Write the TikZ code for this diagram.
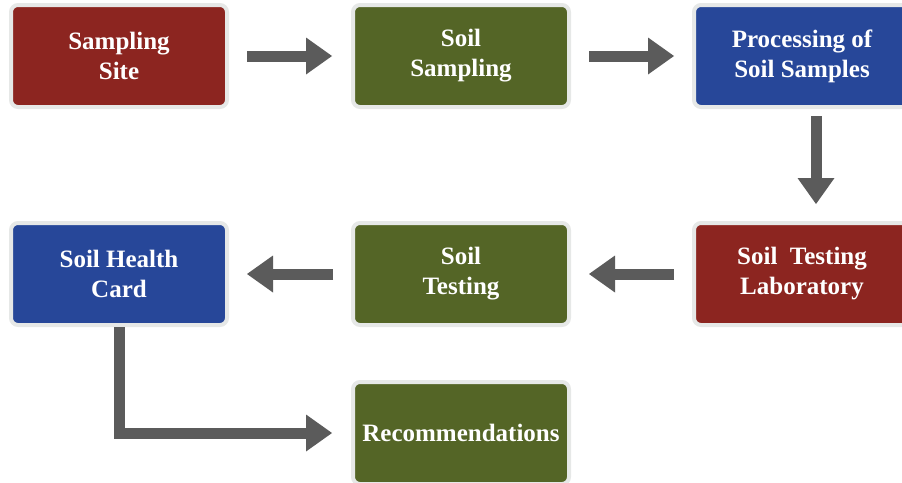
\documentclass[tikz,border=0pt]{standalone}
\usepackage{fontspec}
\setmainfont{Liberation Serif}
\usetikzlibrary{arrows.meta}
\definecolor{boxred}{HTML}{8C2520}
\definecolor{boxgreen}{HTML}{546526}
\definecolor{boxblue}{HTML}{274799}
\definecolor{boxrim}{HTML}{E6E8E7}
\definecolor{arrowgray}{HTML}{5B5B5B}
\tikzset{
  stepbox/.style={draw=boxrim, line width=4pt, rounded corners=7pt,
    minimum width=216pt, minimum height=102pt, text=white, align=center,
    font=\bfseries\fontsize{25}{30}\selectfont},
  flow/.style={draw=arrowgray, line width=11pt,
    -{Triangle[length=26pt,width=37pt,line width=0pt]}}
}
\begin{document}
\begin{tikzpicture}[x=1pt,y=-1pt]
\useasboundingbox (0,0) rectangle (902,482);
\clip (0,0) rectangle (902,482);
\node[stepbox, fill=boxred] (site) at (119,56) {Sampling\\Site};
\node[stepbox, fill=boxgreen] (samp) at (461,56) {Soil\\Sampling};
\node[stepbox, fill=boxblue] (proc) at (802,56) {Processing of\\Soil Samples};
\node[stepbox, fill=boxred] (lab) at (802,274) {Soil~ Testing\\Laboratory};
\node[stepbox, fill=boxgreen] (test) at (461,274) {Soil\\Testing};
\node[stepbox, fill=boxblue] (card) at (119,274) {Soil Health\\Card};
\node[stepbox, fill=boxgreen] (rec) at (461,433) {Recommendations};
\draw[flow, shorten <=18pt, shorten >=19pt] (site.east) -- (samp.west);
\draw[flow, shorten <=18pt, shorten >=18pt] (samp.east) -- (proc.west);
\draw[flow, shorten <=7pt, shorten >=17pt] ([xshift=14pt]proc.south) -- ([xshift=14pt]lab.north);
\draw[flow, shorten <=18pt, shorten >=18pt] (lab.west) -- (test.east);
\draw[flow, shorten <=18pt, shorten >=18pt] (test.west) -- (card.east);
\draw[flow, shorten >=19pt] (card.south) |- (rec.west);
\end{tikzpicture}
\end{document}
